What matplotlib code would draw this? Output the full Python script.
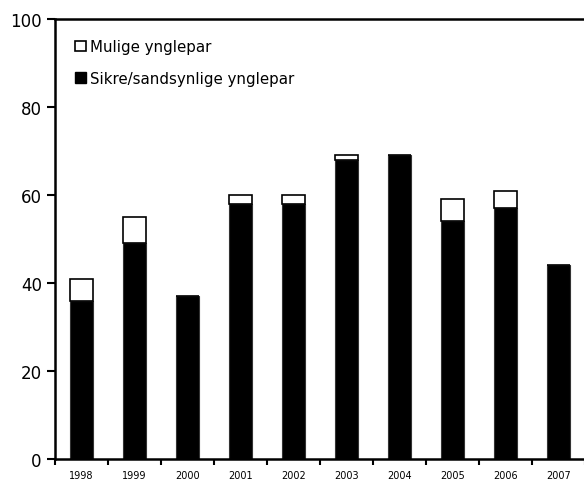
import numpy as np
import matplotlib.pyplot as plt
from matplotlib.patches import Patch

years = ['1998', '1999', '2000', '2001', '2002', '2003', '2004', '2005', '2006', '2007']
sikre = [36, 49, 37, 58, 58, 68, 69, 54, 57, 44]
mulige = [5, 6, 0, 2, 2, 1, 0, 5, 4, 0]

fig = plt.figure(figsize=(5.84, 4.81), dpi=100)
ax = fig.add_axes([55 / 584, 21 / 481, 530 / 584, 440 / 481])

x = np.arange(len(years))
ax.bar(x, sikre, width=0.45, color='black', edgecolor='#333333', linewidth=0.8)
ax.bar(x, mulige, width=0.45, bottom=sikre, color='white', edgecolor='black', linewidth=1.2)

ax.set_xlim(-0.5, len(years) - 0.5)
ax.set_ylim(0, 100)
ax.set_yticks([0, 20, 40, 60, 80, 100])
ax.tick_params(axis='y', labelsize=12, length=6, width=1.5, direction='out')

# ticks between categories, labels under bars
ax.set_xticks(np.arange(len(years) + 1) - 0.5)
ax.set_xticklabels([])
ax.set_xticks(x, minor=True)
ax.set_xticklabels(years, minor=True, fontsize=7)
ax.tick_params(axis='x', which='major', length=4, width=1.5, direction='out')
ax.tick_params(axis='x', which='minor', length=0, pad=8)

for s in ['left', 'bottom', 'top']:
    ax.spines[s].set_linewidth(1.8)
ax.spines['right'].set_visible(False)

handles = [Patch(facecolor='white', edgecolor='black', linewidth=1.2, label='Mulige ynglepar'),
           Patch(facecolor='black', edgecolor='black', label='Sikre/sandsynlige ynglepar')]
ax.legend(handles=handles, loc='upper left', bbox_to_anchor=(0.013, 0.985), frameon=False,
          fontsize=10.8, handlelength=0.7, handleheight=0.7, handletextpad=0.3, labelspacing=1.1)

fig.savefig('out.png', dpi=100)
